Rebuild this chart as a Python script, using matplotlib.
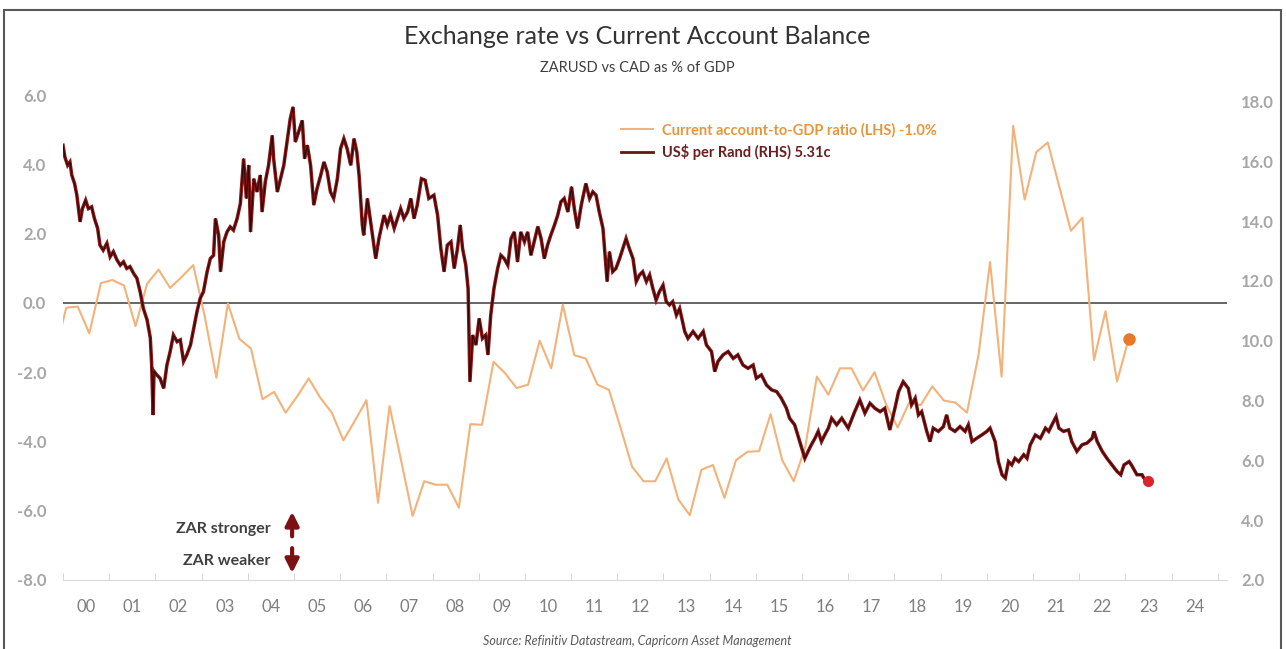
import matplotlib.pyplot as plt
from matplotlib.lines import Line2D
from matplotlib.patches import Rectangle

plt.rcParams['font.family'] = ['Lato', 'DejaVu Sans']

# Current account balance as % of GDP, quarterly, first point 1999Q3
ca_start = 1999.82
ca_gdp = [-1.50, -0.14, -0.11, -0.88, 0.57, 0.66, 0.50, -0.67, 0.55, 0.96,
          0.43, 0.75, 1.09, -0.40, -2.16, -0.02, -1.04, -1.32, -2.78, -2.57,
          -3.17, -2.70, -2.18, -2.74, -3.17, -3.97, -3.40, -2.81, -5.77, -2.98,
          -4.55, -6.15, -5.15, -5.25, -5.25, -5.91, -3.50, -3.52, -1.70, -2.03,
          -2.46, -2.36, -1.09, -1.89, -0.05, -1.51, -1.61, -2.36, -2.51, -3.60,
          -4.73, -5.15, -5.15, -4.49, -5.67, -6.13, -4.82, -4.68, -5.63, -4.54,
          -4.30, -4.28, -3.21, -4.54, -5.15, -4.16, -2.13, -2.65, -1.89, -1.89,
          -2.53, -2.00, -2.93, -3.60, -2.88, -2.95, -2.41, -2.82, -2.88, -3.17,
          -1.51, 1.18, -2.13, 5.11, 2.98, 4.35, 4.63, 3.35, 2.08, 2.46,
          -1.65, -0.24, -2.27, -1.04]

# US cents per rand (decimal year, value)
zar_years = [
    2000.00, 2000.04, 2000.10, 2000.15, 2000.19, 2000.25, 2000.30, 2000.37, 2000.42, 2000.49, 2000.55, 2000.62, 2000.68, 2000.75, 2000.80, 2000.87, 2000.95,
    2001.02, 2001.09, 2001.17, 2001.24, 2001.31, 2001.38, 2001.45, 2001.53, 2001.60, 2001.67, 2001.74, 2001.82, 2001.89, 2001.92, 2001.95, 2001.97,
    2002.03, 2002.10, 2002.18, 2002.25, 2002.32, 2002.39, 2002.47, 2002.54, 2002.61, 2002.68, 2002.76, 2002.83, 2002.90, 2002.97,
    2003.04, 2003.12, 2003.19, 2003.26, 2003.30, 2003.37, 2003.41, 2003.48, 2003.55, 2003.62, 2003.69, 2003.77, 2003.84, 2003.91, 2003.97,
    2004.02, 2004.06, 2004.13, 2004.20, 2004.27, 2004.31, 2004.38, 2004.45, 2004.53, 2004.56, 2004.64, 2004.71, 2004.78, 2004.85, 2004.92, 2004.98,
    2005.03, 2005.10, 2005.18, 2005.23, 2005.29, 2005.36, 2005.43, 2005.50, 2005.58, 2005.65, 2005.72, 2005.79, 2005.86, 2005.94,
    2006.01, 2006.08, 2006.15, 2006.23, 2006.30, 2006.36, 2006.41, 2006.48, 2006.51, 2006.59, 2006.66, 2006.73, 2006.77, 2006.84, 2006.95,
    2007.02, 2007.09, 2007.17, 2007.24, 2007.31, 2007.38, 2007.46, 2007.53, 2007.60, 2007.67, 2007.76, 2007.84, 2007.92,
    2008.03, 2008.11, 2008.18, 2008.25, 2008.32, 2008.40, 2008.47, 2008.54, 2008.60, 2008.65, 2008.72, 2008.77, 2008.81, 2008.87, 2008.94,
    2009.01, 2009.08, 2009.15, 2009.20, 2009.26, 2009.33, 2009.41, 2009.48, 2009.55, 2009.63, 2009.70, 2009.77, 2009.84, 2009.91, 2009.99,
    2010.06, 2010.13, 2010.20, 2010.28, 2010.35, 2010.42, 2010.49, 2010.56, 2010.64, 2010.71, 2010.78, 2010.85, 2010.93,
    2011.01, 2011.07, 2011.14, 2011.22, 2011.32, 2011.40, 2011.47, 2011.54, 2011.61, 2011.69, 2011.74, 2011.78, 2011.83, 2011.90, 2011.97,
    2012.05, 2012.12, 2012.19, 2012.26, 2012.34, 2012.41, 2012.48, 2012.55, 2012.63, 2012.70, 2012.77, 2012.84, 2012.91, 2012.99,
    2013.06, 2013.13, 2013.20, 2013.28, 2013.35, 2013.46, 2013.53, 2013.64, 2013.75, 2013.86, 2013.93,
    2014.04, 2014.11, 2014.18, 2014.29, 2014.40, 2014.51, 2014.61, 2014.72, 2014.83, 2014.94,
    2015.01, 2015.12, 2015.23, 2015.34, 2015.45, 2015.55, 2015.66, 2015.73, 2015.84, 2015.95,
    2016.06, 2016.13, 2016.20, 2016.28, 2016.35, 2016.42, 2016.49, 2016.57, 2016.64, 2016.75, 2016.86,
    2017.00, 2017.14, 2017.25, 2017.36, 2017.47, 2017.58, 2017.69, 2017.79, 2017.90,
    2018.01, 2018.09, 2018.19, 2018.30, 2018.37, 2018.45, 2018.52, 2018.59, 2018.70, 2018.77, 2018.84, 2018.95,
    2019.06, 2019.13, 2019.20, 2019.31, 2019.42, 2019.53, 2019.60, 2019.68, 2019.78, 2019.89,
    2020.00, 2020.07, 2020.18, 2020.25, 2020.33, 2020.40, 2020.47, 2020.54, 2020.61, 2020.69, 2020.80, 2020.87, 2020.94,
    2021.05, 2021.16, 2021.27, 2021.34, 2021.41, 2021.50, 2021.56, 2021.66, 2021.77, 2021.84, 2021.95,
    2022.06, 2022.17, 2022.28, 2022.32, 2022.39, 2022.50, 2022.60, 2022.71, 2022.82, 2022.90, 2022.97,
    2023.08, 2023.13, 2023.25, 2023.36, 2023.40, 2023.49]
zar_usc = [
    16.54, 16.15, 15.87, 15.98, 15.54, 15.26, 14.87, 13.98, 14.42, 14.70, 14.42, 14.48, 14.09, 13.76, 13.20, 13.03, 13.26,
    12.81, 12.98, 12.70, 12.53, 12.64, 12.42, 12.48, 12.25, 12.09, 11.64, 11.08, 10.70, 10.10, 9.19, 7.52, 8.98,
    8.86, 8.75, 8.41, 9.19, 9.64, 10.19, 9.97, 10.03, 9.31, 9.53, 9.86, 10.42, 10.97, 11.42,
    11.64, 12.31, 12.75, 12.86, 14.09, 13.53, 12.31, 13.31, 13.64, 13.81, 13.70, 14.09, 14.59, 16.09, 14.76,
    15.87, 13.64, 15.42, 14.98, 15.54, 14.31, 15.32, 15.87, 16.87, 16.09, 14.98, 15.42, 15.87, 16.65, 17.43, 17.82,
    16.65, 16.98, 17.37, 16.09, 16.54, 15.87, 14.54, 15.09, 15.54, 15.98, 15.65, 14.98, 14.76, 15.42,
    16.43, 16.76, 16.43, 15.87, 16.76, 16.32, 15.54, 13.87, 13.53, 14.76, 13.98, 13.20, 12.75, 13.42, 14.20,
    13.87, 14.20, 13.76, 14.09, 14.42, 14.09, 14.31, 14.76, 14.09, 14.54, 15.42, 15.37, 14.76,
    14.87, 14.20, 13.09, 12.31, 13.20, 13.31, 12.42, 13.09, 13.87, 13.09, 12.53, 11.75, 8.63, 10.19, 9.86,
    10.75, 10.08, 10.19, 9.53, 10.86, 11.75, 12.42, 12.86, 12.75, 12.53, 13.42, 13.64, 12.64, 13.64, 13.31,
    13.64, 12.86, 13.31, 13.82, 13.42, 12.75, 13.20, 13.53, 13.87, 14.20, 14.65, 14.76, 14.31,
    15.15, 14.42, 13.76, 14.54, 15.26, 14.76, 14.98, 14.87, 14.31, 13.76, 12.75, 11.98, 12.98, 12.31, 12.42,
    12.75, 13.09, 13.42, 13.09, 12.75, 11.98, 12.20, 12.31, 11.98, 12.20, 11.75, 11.36, 11.64, 11.86,
    11.31, 11.20, 11.31, 10.86, 11.08, 10.31, 10.08, 10.31, 10.08, 10.31, 9.86,
    9.64, 8.97, 9.31, 9.53, 9.64, 9.41, 9.53, 9.19, 9.08, 9.19,
    8.75, 8.86, 8.52, 8.36, 8.30, 8.08, 7.75, 7.41, 7.19, 6.63,
    6.07, 6.30, 6.52, 6.74, 6.97, 6.63, 6.85, 7.08, 7.41, 7.19, 7.41,
    7.08, 7.63, 8.02, 7.58, 7.91, 7.74, 7.63, 7.74, 7.02,
    7.74, 8.30, 8.63, 8.41, 7.86, 8.08, 7.52, 7.63, 6.97, 6.63, 7.08, 6.97,
    7.13, 7.52, 7.08, 6.97, 7.13, 6.97, 7.19, 6.63, 6.74, 6.85,
    6.97, 7.08, 6.63, 5.96, 5.52, 5.41, 5.96, 5.85, 6.07, 5.96, 6.19, 6.07, 6.52,
    6.85, 6.74, 7.08, 6.97, 7.19, 7.46, 7.08, 6.97, 7.02, 6.63, 6.30,
    6.52, 6.58, 6.74, 6.97, 6.63, 6.30, 6.07, 5.85, 5.63, 5.52, 5.85,
    5.96, 5.85, 5.52, 5.52, 5.41, 5.31]

years = list(range(2000, 2025))
year_labels = ['%02d' % (y % 100) for y in years]
left_ticks = [-8, -6, -4, -2, 0, 2, 4, 6]
right_ticks = [2, 4, 6, 8, 10, 12, 14, 16, 18]

ca_years = [ca_start + 0.25 * i for i in range(len(ca_gdp))]

orange = '#f2b27a'
maroon = '#8c1515'
grey_txt = '#a6a6a6'

fig = plt.figure(figsize=(12.86, 6.49), dpi=100)
ax = fig.add_axes([63 / 1286, 1 - 580 / 649, (1227 - 63) / 1286, (580 - 95) / 649])
ax2 = ax.twinx()

# Current account on the left axis
ax.axhline(0, color='#595959', lw=1.3, zorder=1)
ax.plot(ca_years, ca_gdp, color=orange, lw=1.5, zorder=2)
ax.plot(ca_years[-1], ca_gdp[-1], 'o', color='#e8792b', ms=8, zorder=3)

# Rand on the right axis
ax2.plot(zar_years, zar_usc, color=maroon, lw=2.5, solid_joinstyle='miter')
ax2.plot(zar_years, zar_usc, color='#2e0505', lw=0.8)
ax2.plot(zar_years[-1], zar_usc[-1], 'o', color='#d9262c', ms=7)

# Axes limits and ticks
ax.set_xlim(2000, 2025.2)
ax.set_ylim(-8, 6)
ax2.set_ylim(2, 18.22)

ax.set_xticks([y + 0.5 for y in years])
ax.set_xticklabels(year_labels)
ax.set_xticks(years + [2025], minor=True)
ax.tick_params(axis='x', which='major', length=0, pad=14, labelsize=12, labelcolor='#7f7f7f')
ax.tick_params(axis='x', which='minor', direction='in', length=5, color='#d0d0d0')

ax.set_yticks(left_ticks)
ax.set_yticklabels(['%.1f' % v for v in left_ticks], fontweight='bold')
ax.tick_params(axis='y', length=0, pad=12, labelsize=12, labelcolor=grey_txt)
ax2.set_yticks(right_ticks)
ax2.set_yticklabels(['%.1f' % v for v in right_ticks], fontweight='bold')
ax2.tick_params(axis='y', length=0, pad=10, labelsize=12, labelcolor=grey_txt)

for s in ['top', 'left', 'right']:
    ax.spines[s].set_visible(False)
    ax2.spines[s].set_visible(False)
ax.spines['bottom'].set_color('#d9d9d9')
ax2.spines['bottom'].set_visible(False)

# Legend
handles = [Line2D([], [], color=orange, lw=1.5), Line2D([], [], color='#6b1414', lw=2)]
labels = ['Current account-to-GDP ratio (LHS) -1.0%', 'US$ per Rand (RHS) 5.31c']
ax2.legend(handles, labels, loc='upper left', bbox_to_anchor=(0.468, 0.97), frameon=False,
           prop={'weight': 'bold', 'size': 10.5}, labelcolor=['#e8963c', '#6b1f1f'],
           handlelength=2.2, handletextpad=0.6, labelspacing=0.5)

# ZAR direction note
ax.text(2004.5, -6.52, 'ZAR stronger', ha='right', va='center', fontsize=11.5,
        fontweight='bold', color='#404040')
ax.text(2004.5, -7.45, 'ZAR weaker', ha='right', va='center', fontsize=11.5,
        fontweight='bold', color='#404040')
ax.annotate('', xy=(2004.96, -5.95), xytext=(2004.96, -6.82),
            arrowprops=dict(arrowstyle='-|>', color='#7b1113', lw=3, mutation_scale=20))
ax.annotate('', xy=(2004.96, -7.88), xytext=(2004.96, -7.0),
            arrowprops=dict(arrowstyle='-|>', color='#7b1113', lw=3, mutation_scale=20))

# Titles and source
fig.text(0.4955, 0.943, 'Exchange rate vs Current Account Balance', ha='center', va='center',
         fontsize=18, color='#333333')
fig.text(0.4955, 0.895, 'ZARUSD vs CAD as % of GDP', ha='center', va='center',
         fontsize=10.5, color='#404040')
fig.text(0.4955, 0.012, 'Source: Refinitiv Datastream, Capricorn Asset Management', ha='center',
         va='center', fontsize=9, style='italic', color='#595959')

# Outer frame
fig.add_artist(Rectangle((0.003, -0.01), 0.993, 0.9946, transform=fig.transFigure,
                         fill=False, ec='#595959', lw=1.5))

fig.savefig('out.png', dpi=100)
